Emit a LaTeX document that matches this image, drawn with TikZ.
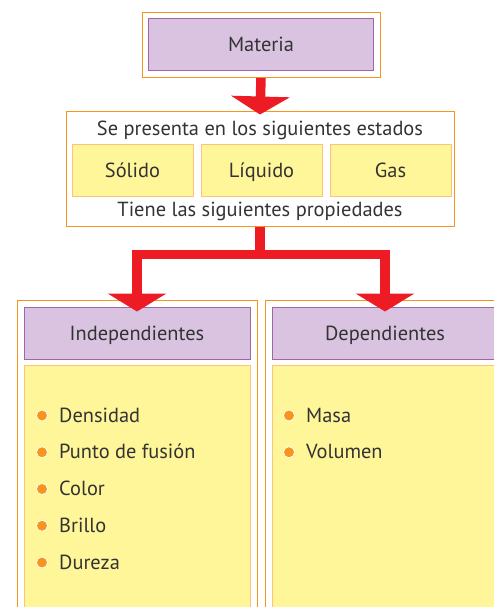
\documentclass[tikz,border=0pt]{standalone}
\usepackage{fontspec}
\setmainfont{PT Sans}
\usepackage{xcolor}
\usetikzlibrary{arrows.meta, positioning, fit}
\definecolor{frameOrange}{HTML}{F7941D}
\definecolor{headFill}{HTML}{D9C3E0}
\definecolor{headLine}{HTML}{A066A8}
\definecolor{boxFill}{HTML}{FFF599}
\definecolor{boxLine}{HTML}{FBC37E}
\definecolor{arrowRed}{HTML}{ED1C24}
\definecolor{textGray}{HTML}{333333}
\tikzset{
  framebox/.style={rectangle, draw=frameOrange, line width=1pt, inner sep=6pt},
  headbox/.style={rectangle, draw=headLine, fill=headFill, line width=1pt,
                  minimum width=226pt, minimum height=52pt,
                  text height=14pt, text depth=0pt},
  statebox/.style={rectangle, draw=boxLine, fill=boxFill, line width=1pt,
                   minimum width=121pt, minimum height=52pt,
                   text height=14pt, text depth=0pt},
  listbox/.style={rectangle, draw=boxLine, fill=boxFill, line width=1pt,
                  minimum width=226pt, minimum height=242pt},
  bigarrow/.style={-{Triangle[width=58pt, length=18pt]}, line width=9.5pt,
                   draw=arrowRed},
  dot/.style={circle, fill=frameOrange, draw=white, line width=0.7pt,
              minimum size=11pt, inner sep=0pt},
  item/.style={anchor=base west, inner sep=0pt},
}

\begin{document}
\begin{tikzpicture}[x=1pt, y=-1pt, font=\fontsize{20.4}{24}\selectfont,
                    text=textGray]

  \useasboundingbox (0,0) rectangle (494,607);
  \clip (0,0) rectangle (494,607);

  % --- Nodes ---
  \node[headbox, minimum width=225pt] (materia) at (261,45) {Materia};
  \node[framebox, fit=(materia)] (materiaFrame) {};

  \node[framebox, minimum width=388pt, minimum height=114pt, inner sep=0pt]
    (estados) at (260,169) {};
  \node[anchor=base] (se) at ([yshift=-24pt]estados.north)
    {Se presenta en los siguientes estados};
  \node[anchor=base] (tiene) at ([yshift=10pt]estados.south)
    {Tiene las siguientes propiedades};

  \node[statebox] (liquido) at (261.5,170) {Líquido};
  \node[statebox, left=7pt of liquido] (solido) {Sólido};
  \node[statebox, right=7pt of liquido] (gas) {Gas};

  \node[headbox] (indep) at (137,333) {Independientes};
  \node[headbox, right=21pt of indep] (dep) {Dependientes};
  \node[listbox, below=5pt of indep] (indepList) {};
  \node[listbox, below=5pt of dep] (depList) {};
  \node[framebox, fit=(indep)(indepList), inner sep=6.5pt] (indepFrame) {};
  \node[framebox, fit=(dep)(depList), inner sep=6.5pt] (depFrame) {};

  % --- Lists ---
  \foreach \txt [count=\i] in {Densidad, Punto de fusión, Color, Brillo, Dureza} {
    \node[item] (indItem\i) at (59, 385.25+36.75*\i) {\txt};
    \node[dot] (indDot\i) at ([xshift=-17pt, yshift=6.5pt]indItem\i.base west) {};
  }
  \foreach \txt [count=\i] in {Masa, Volumen} {
    \node[item] (depItem\i) at (306, 385.25+36.75*\i) {\txt};
    \node[dot] (depDot\i) at ([xshift=-17pt, yshift=6.5pt]depItem\i.base west) {};
  }

  % --- Edges ---
  \draw[bigarrow] (materiaFrame.south) -- ([yshift=-3pt]estados.north);
  \draw[bigarrow] (estados.south) -- ++(0,28) -| ([yshift=-5pt]indep.north);
  \draw[bigarrow] (estados.south) -- ++(0,28) -| ([yshift=-5pt]dep.north);

\end{tikzpicture}
\end{document}
